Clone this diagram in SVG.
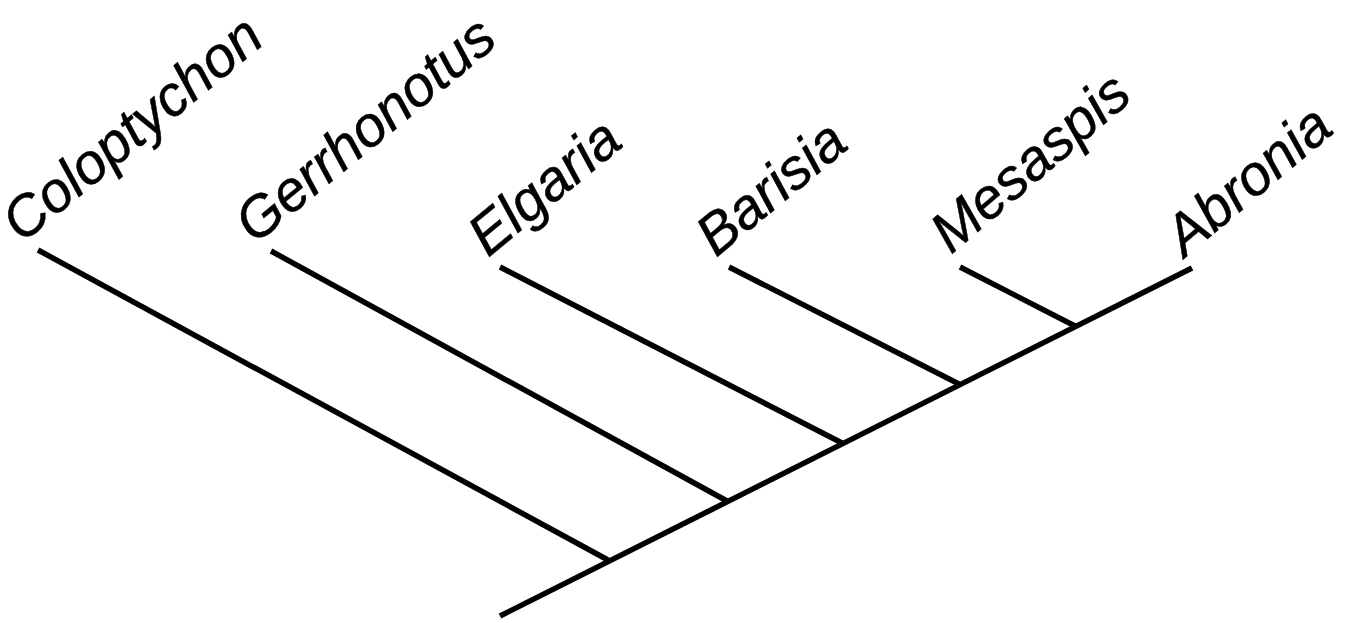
<svg xmlns="http://www.w3.org/2000/svg" width="1366" height="623" viewBox="0 0 1366 623">
<style>
.lbl{font-family:"Liberation Sans",Arial,sans-serif;font-style:italic;font-size:57px;fill:#000;stroke:#000;stroke-width:0.5}
.br{stroke:#000;stroke-width:5.5;fill:none;stroke-linecap:butt}
</style>
<rect width="1366" height="623" fill="#fff"/>
<g id="connectors">
<line class="br" x1="500" y1="616" x2="1192" y2="268"/>
<line class="br" x1="38" y1="250" x2="608" y2="560"/>
<line class="br" x1="271" y1="251" x2="727" y2="501"/>
<line class="br" x1="500" y1="267" x2="842" y2="443"/>
<line class="br" x1="729" y1="267" x2="959" y2="384"/>
<line class="br" x1="960" y1="267" x2="1075" y2="326"/>
</g>
<g id="Coloptychon"><text class="lbl" transform="translate(22,244) rotate(-39.5)">Coloptychon</text></g>
<g id="Gerrhonotus"><text class="lbl" transform="translate(255,245) rotate(-39.5)">Gerrhonotus</text></g>
<g id="Elgaria"><text class="lbl" transform="translate(488,258) rotate(-39.5)">Elgaria</text></g>
<g id="Barisia"><text class="lbl" transform="translate(716,258) rotate(-39.5)">Barisia</text></g>
<g id="Mesaspis"><text class="lbl" transform="translate(951,255) rotate(-40.5)">Mesaspis</text></g>
<g id="Abronia"><text class="lbl" transform="translate(1185,258) rotate(-40)">Abronia</text></g>
</svg>
